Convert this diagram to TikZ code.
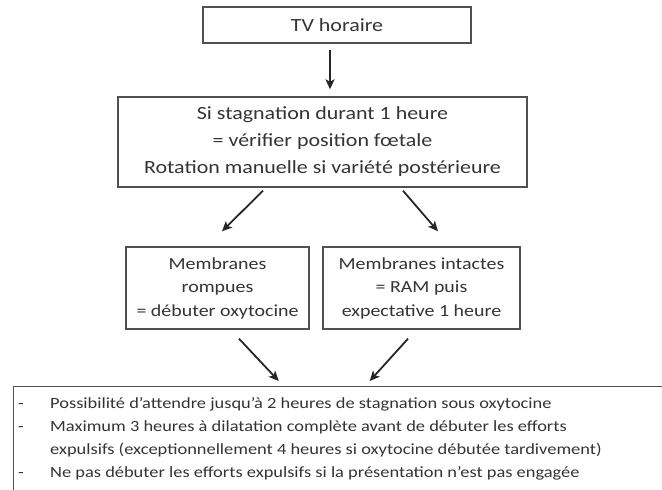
\documentclass[tikz,border=0pt]{standalone}
\usepackage{fontspec}
\setmainfont[FakeStretch=1.18]{Carlito}
\usetikzlibrary{arrows.meta}
\definecolor{texte}{RGB}{52,52,52}
\definecolor{cadre}{RGB}{80,80,80}

\begin{document}
\begin{tikzpicture}[x=1pt,y=-1pt,
  boite/.style={draw=cadre,line width=1.4pt,text=texte,align=center,inner sep=0pt},
  grand/.style={font=\fontsize{18.6}{27}\selectfont},
  moyen/.style={font=\fontsize{16.9}{23.5}\selectfont},
  fleche/.style={-{Stealth[length=10pt,width=9pt,inset=2.5pt]},line width=1.8pt,draw=black!85}]
\useasboundingbox (0,0) rectangle (662,490);
\node [boite,grand,minimum width=268,minimum height=36] (tv) at (337,25) {TV horaire};
\node [boite,grand,minimum width=409,minimum height=90] (stag) at (322.5,142) {Si stagnation durant 1 heure\\= vérifier position fœtale\\Rotation manuelle si variété postérieure};
\node [boite,moyen,minimum width=183,minimum height=82] (rompues) at (217.5,288) {Membranes\\rompues\\= débuter oxytocine};
\node [boite,moyen,minimum width=197,minimum height=82] (intactes) at (421.5,288) {Membranes intactes\\= RAM puis\\expectative 1 heure};
\node [boite,minimum width=700,minimum height=130,anchor=north west] (conduite) at (13,386) {};
\node [text=texte,inner sep=0pt,anchor=base west,font=\fontsize{15.6}{23}\selectfont] (liste) at (18,408)
  {\begin{tabular}[t]{@{}p{32pt}@{}l@{}}
  - & Possibilité d’attendre jusqu’à 2 heures de stagnation sous oxytocine\\
  - & Maximum 3 heures à dilatation complète avant de débuter les efforts\\
    & expulsifs (exceptionnellement 4 heures si oxytocine débutée tardivement)\\
  - & Ne pas débuter les efforts expulsifs si la présentation n’est pas engagée
  \end{tabular}};
\draw [fleche] ([xshift=-7pt,yshift=-6pt]tv.south) -- ([xshift=7.5pt,yshift=7pt]stag.north);
\draw [fleche] ([xshift=-59.5pt,yshift=-3pt]stag.south) -- ([xshift=4.5pt,yshift=15pt]rompues.north);
\draw [fleche] ([xshift=80.5pt,yshift=-3pt]stag.south) -- ([xshift=16.5pt,yshift=15pt]intactes.north);
\draw [fleche] ([xshift=21.5pt,yshift=-9pt]rompues.south) -- ([xshift=-85pt,yshift=5pt]conduite.north);
\draw [fleche] ([xshift=-13.5pt,yshift=-9pt]intactes.south) -- ([xshift=6pt,yshift=5pt]conduite.north);
\end{tikzpicture}
\end{document}
